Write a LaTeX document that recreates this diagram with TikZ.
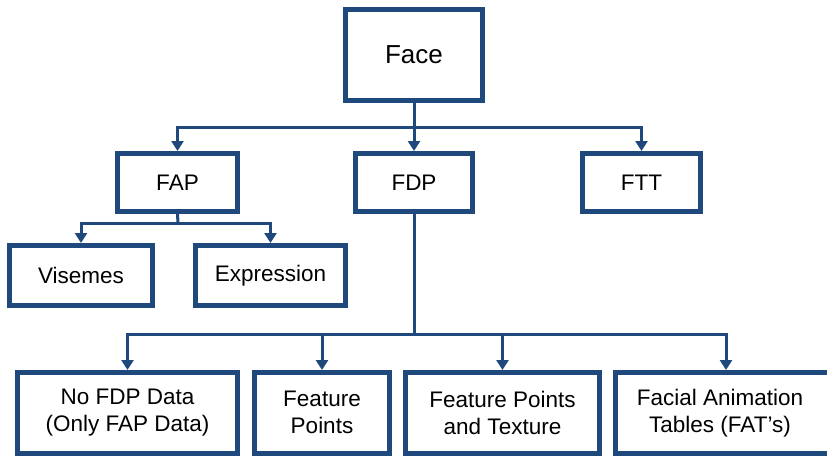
\documentclass[tikz,border=0pt]{standalone}
\usepackage{fontspec}
\setmainfont{Liberation Sans}
\usetikzlibrary{arrows.meta}
\definecolor{boxblue}{RGB}{31,73,125}
\tikzset{
  box/.style={draw=boxblue, line width=5pt, fill=white, rectangle, inner sep=0pt,
    align=center, font=\fontsize{22.5}{27}\selectfont, text=black},
  conn/.style={draw=boxblue, line width=3pt},
  arr/.style={conn, -{Triangle[width=12pt,length=10pt]}},
}
\begin{document}
\begin{tikzpicture}[x=1pt,y=1pt]
\useasboundingbox (0,0) rectangle (827,-458);
\clip (0,0) rectangle (827,-458);
% top level
\node[box, minimum width=137pt, minimum height=91pt, font=\fontsize{26}{30}\selectfont] (face) at (414,-55) {Face};
% second level
\node[box, minimum width=120pt, minimum height=58pt] (fap) at (177.5,-182.5) {FAP};
\node[box, minimum width=117pt, minimum height=58pt] (fdp) at (414,-182.5) {FDP};
\node[box, minimum width=118pt, minimum height=58pt] (ftt) at (641.5,-182.5) {FTT};
% FAP children
\node[box, minimum width=143pt, minimum height=60pt] (vis) at (81,-275.5) {Visemes};
\node[box, minimum width=150pt, minimum height=60pt] (exp) at (270.5,-275.5) {Expression};
% FDP children
\node[box, minimum width=220pt, minimum height=80.5pt] (nofdp) at (127.5,-412.75) {No FDP Data\\(Only FAP Data)};
\node[box, minimum width=135pt, minimum height=80.5pt] (fp) at (322,-412.75) {Feature\\Points};
\node[box, minimum width=194pt, minimum height=80.5pt] (fpt) at (502.5,-412.75) {Feature Points\\and Texture};
\node[box, minimum width=221pt, minimum height=80.5pt] (fat) at (726,-412.75) {};
\node[align=center, font=\fontsize{22.5}{27}\selectfont] (fattxt) at (720,-412.75) {Facial Animation\\Tables (FAT’s)};
% bus coordinates
\coordinate (b1) at (414,-127.5);
\coordinate (b2) at (178,-223);
\coordinate (b3) at (414,-334);
% connectors
\draw[conn] (face.south) -- (b1);
\draw[arr] (b1) -| (fap.north);
\draw[arr] (b1) -| (ftt.north);
\draw[arr] (face.south) -- (fdp.north);
\draw[conn] (fap.south) -- (b2);
\draw[arr] (b2) -| (vis.north);
\draw[arr] (b2) -| (exp.north);
\draw[conn] (fdp.south) -- (b3);
\draw[arr] (b3) -| (nofdp.north);
\draw[arr] (b3) -| (fp.north);
\draw[arr] (b3) -| (fpt.north);
\draw[arr] (b3) -| (fat.north);
\end{tikzpicture}
\end{document}
